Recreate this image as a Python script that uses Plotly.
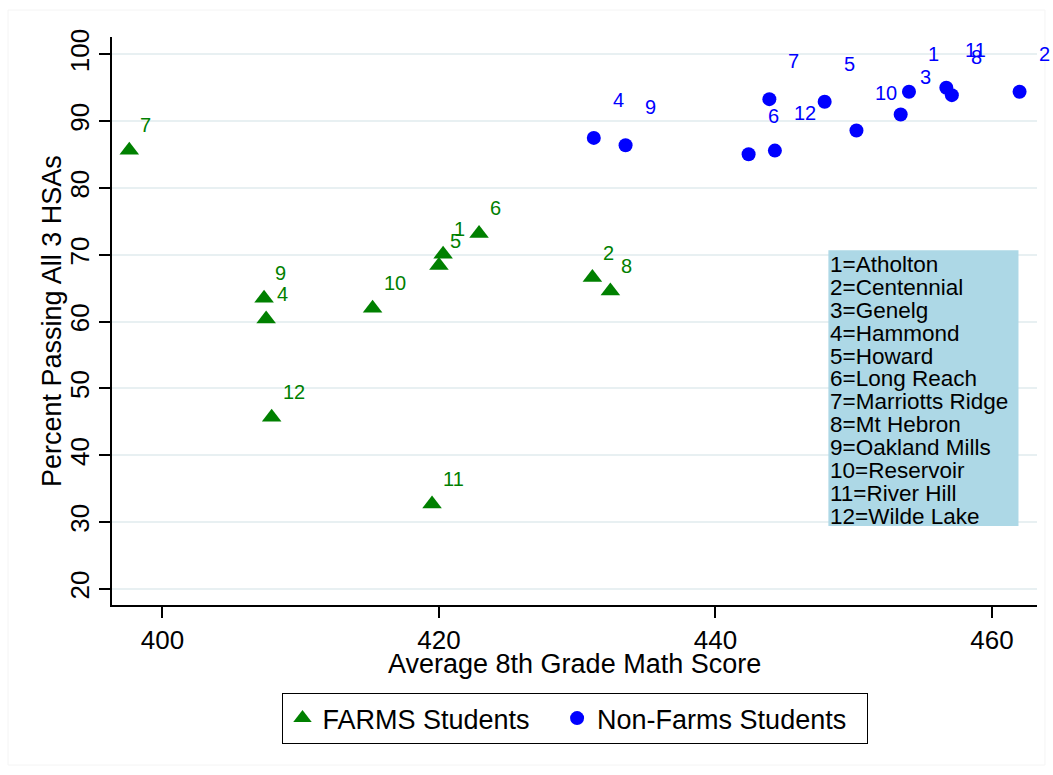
import plotly.graph_objects as go

# ---- data ----
school_ids = [1, 2, 3, 4, 5, 6, 7, 8, 9, 10, 11, 12]
school_names = ["Atholton", "Centennial", "Genelg", "Hammond", "Howard", "Long Reach",
                "Marriotts Ridge", "Mt Hebron", "Oakland Mills", "Reservoir", "River Hill", "Wilde Lake"]

farms_x = [420.3, 431.1, None, 407.5, 420.0, 422.9, 397.6, 432.4, 407.35, 415.2, 419.5, 407.9]
farms_y = [70.1, 66.6, None, 60.4, 68.4, 73.2, 85.65, 64.6, 63.5, 62.0, 32.7, 45.7]

nonfarms_x = [454.0, 462.0, 453.4, 431.2, 447.9, 442.4, 443.9, 457.1, 433.5, 450.2, 456.7, 444.3]
nonfarms_y = [94.4, 94.4, 91.0, 87.5, 92.9, 85.05, 93.3, 93.9, 86.4, 88.6, 95.0, 85.6]

x_ticks = [400, 420, 440, 460]
y_ticks = [20, 30, 40, 50, 60, 70, 80, 90, 100]

GREEN = "#008000"
BLUE = "#0000ff"
FONT = "Liberation Sans, Arial, Helvetica, sans-serif"
NBSP = "\u00a0"

fig = go.Figure()

fig.add_trace(go.Scatter(
    x=farms_x, y=farms_y, mode="markers", name="FARMS Students" + NBSP * 3,
    marker=dict(symbol="triangle-up", size=17, color=GREEN),
    hoverinfo="skip",
))
fig.add_trace(go.Scatter(
    x=nonfarms_x, y=nonfarms_y, mode="markers", name="Non-Farms Students" + NBSP * 2,
    marker=dict(symbol="circle", size=14, color=BLUE),
    hoverinfo="skip",
))

annotations = []
for sid, xv, yv in zip(school_ids, farms_x, farms_y):
    if xv is None:
        continue
    annotations.append(dict(x=xv, y=yv, xref="x", yref="y", text=str(sid), showarrow=False,
                            xanchor="left", yanchor="bottom", xshift=9, yshift=12,
                            font=dict(size=20, color=GREEN, family=FONT)))
for sid, xv, yv in zip(school_ids, nonfarms_x, nonfarms_y):
    annotations.append(dict(x=xv, y=yv, xref="x", yref="y", text=str(sid), showarrow=False,
                            xanchor="left", yanchor="bottom", xshift=17, yshift=25,
                            font=dict(size=20, color=BLUE, family=FONT)))

# key box
box_x0, box_x1 = 448.17, 461.92
box_y0, box_y1 = 29.42, 70.69
line_first = 68.55
line_pitch = 3.424
for i, (sid, nm) in enumerate(zip(school_ids, school_names)):
    annotations.append(dict(x=box_x0, y=line_first - i * line_pitch, xref="x", yref="y",
                            text=f"{sid}={nm}", showarrow=False,
                            xanchor="left", yanchor="middle", xshift=0,
                            font=dict(size=22.5, color="black", family=FONT)))

# axis titles
annotations.append(dict(x=0.5, y=-0.104, xref="paper", yref="paper",
                        text="Average 8th Grade Math Score", showarrow=False,
                        xanchor="center", yanchor="middle",
                        font=dict(size=27, color="black", family=FONT)))
annotations.append(dict(x=-0.0649, y=0.5, xref="paper", yref="paper",
                        text="Percent Passing All 3 HSAs", showarrow=False, textangle=-90,
                        xanchor="center", yanchor="middle",
                        font=dict(size=27, color="black", family=FONT)))

shapes = [
    dict(type="rect", xref="x", yref="y", x0=box_x0, x1=box_x1, y0=box_y0, y1=box_y1,
         fillcolor="#add8e6", line=dict(width=0), layer="above"),
    dict(type="rect", xref="paper", yref="paper", x0=-0.1124, x1=1.0086, y0=-0.2817, y1=1.0475,
         line=dict(color="#f4f4f4", width=1), fillcolor="rgba(0,0,0,0)", layer="below"),
]

fig.update_layout(
    width=1053, height=775,
    margin=dict(l=112, r=16, t=37, b=170),
    paper_bgcolor="white", plot_bgcolor="white",
    font=dict(family=FONT, size=26, color="black"),
    showlegend=True,
    legend=dict(orientation="h", x=0.5, xanchor="center", y=-0.155, yanchor="top",
                bordercolor="black", borderwidth=1, font=dict(size=27, family=FONT),
                bgcolor="white"),
    annotations=annotations,
    shapes=shapes,
    xaxis=dict(range=[396.35, 463.26], tickvals=x_ticks, ticktext=[str(v) for v in x_ticks],
               showgrid=False, zeroline=False, showline=True, linecolor="black", linewidth=1.5,
               ticks="outside", ticklen=11, tickcolor="black", tickwidth=1.5,
               tickfont=dict(size=26, family=FONT, color="black")),
    yaxis=dict(range=[17.6, 102.6], tickvals=y_ticks, ticktext=[str(v) for v in y_ticks],
               showgrid=True, gridcolor="#e8f0f2", gridwidth=2, zeroline=False,
               showline=True, linecolor="black", linewidth=1.5,
               ticks="outside", ticklen=11, tickcolor="black", tickwidth=1.5, tickangle=-90,
               tickfont=dict(size=26, family=FONT, color="black")),
)

fig.write_html("out.html")
